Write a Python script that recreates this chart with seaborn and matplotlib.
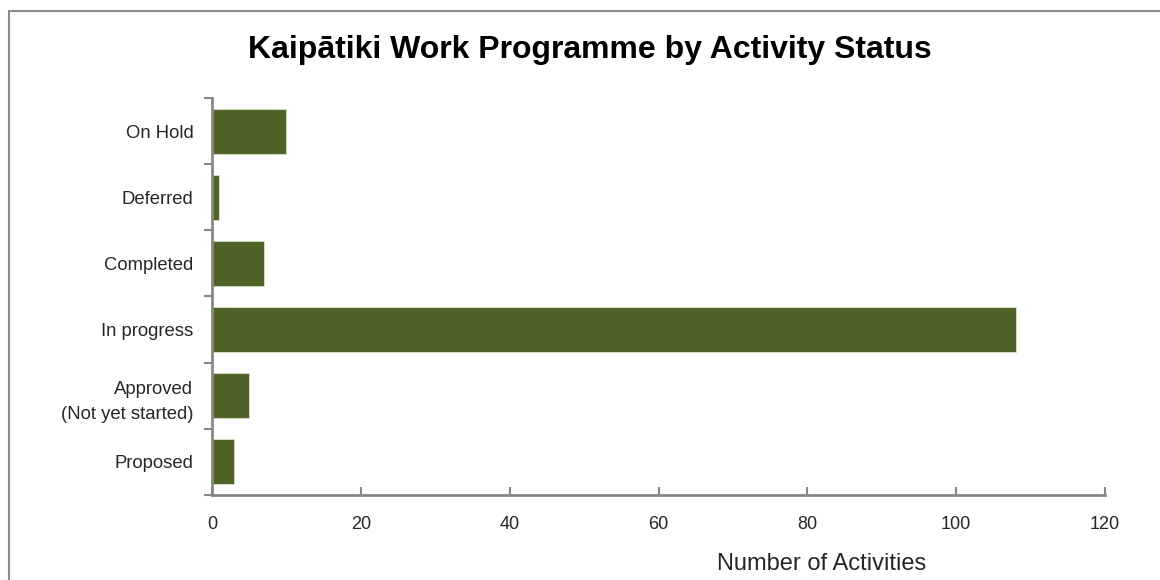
import matplotlib
matplotlib.use("Agg")
import matplotlib.pyplot as plt
import seaborn as sns
import pandas as pd
import numpy as np
from matplotlib.patches import Rectangle
from matplotlib.ticker import FixedLocator

# values (top to bottom)
statuses = ['On Hold', 'Deferred', 'Completed', 'In progress',
            'Approved\n(Not yet started)', 'Proposed']
counts = [10, 1, 7, 108, 5, 3]
x_ticks = [0, 20, 40, 60, 80, 100, 120]

df = pd.DataFrame({'status': statuses, 'count': counts})

sns.set_style('white')
plt.rcParams['font.family'] = ['Liberation Sans', 'DejaVu Sans']

fig = plt.figure(figsize=(11.6, 5.8), dpi=100)
ax = fig.add_axes([0.1828, 0.1466, 0.9526 - 0.1828, 0.831 - 0.1466])

sns.barplot(data=df, y='status', x='count', order=statuses, orient='h',
            color='#4F6228', saturation=1, width=0.68, ax=ax,
            edgecolor='#D7E4BD', linewidth=0.6)

grey = '#878787'
ax.set_xlim(0, 120)
ax.set_ylim(len(statuses) - 0.5, -0.5)
ax.set_xticks(x_ticks)
ax.set_xticklabels([str(t) for t in x_ticks])
ax.tick_params(axis='x', direction='in', length=6, width=1.5, color=grey,
               labelsize=13, labelcolor='#262626', pad=15, bottom=True)
ax.tick_params(axis='y', which='major', length=0, labelsize=13.3,
               labelcolor='#262626', pad=13.5)
for t in ax.get_yticklabels():
    t.set_linespacing(1.65)
ax.yaxis.set_minor_locator(FixedLocator(np.arange(-0.5, len(statuses), 1)))
ax.tick_params(axis='y', which='minor', direction='out', length=6, width=1.5,
               color=grey, left=True)

for s in ['top', 'right']:
    ax.spines[s].set_visible(False)
for s in ['left', 'bottom']:
    ax.spines[s].set_color(grey)
    ax.spines[s].set_linewidth(2)

ax.set_ylabel('')
ax.set_xlabel('Number of Activities', fontsize=17, color='#262626')
ax.xaxis.label.set_va('center')
ax.xaxis.set_label_coords(0.683, -0.173)

fig.text(0.5086, 0.914, 'Kaipātiki Work Programme by Activity Status',
         ha='center', va='center', fontsize=23, fontweight='bold', color='black')

fig.patches.append(Rectangle((9 / 1160, -0.05), 1.2, 1 - 11 / 580 + 0.05,
                             transform=fig.transFigure, fill=False,
                             edgecolor='#8C8C8C', linewidth=1.5))

fig.savefig('out.png', dpi=100)
